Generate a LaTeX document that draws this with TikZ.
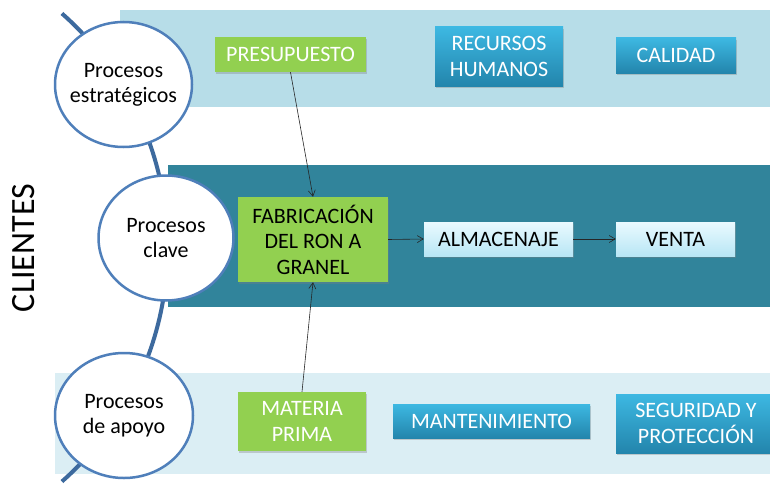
\documentclass[tikz,border=0pt]{standalone}
\usepackage{fontspec}
\setmainfont{Carlito}
\usetikzlibrary{shapes.geometric,shadows,arrows.meta}
\definecolor{bandtop}{HTML}{B7DDE8}
\definecolor{bandmid}{HTML}{31849B}
\definecolor{bandbot}{HTML}{DBEEF4}
\definecolor{boxgreen}{HTML}{92D050}
\definecolor{bluetop}{HTML}{3DB8E2}
\definecolor{bluebot}{HTML}{2385AC}
\definecolor{lighttop}{HTML}{EAFAFF}
\definecolor{lightbot}{HTML}{B8E6F5}
\definecolor{ringblue}{HTML}{4F7FBA}
\definecolor{arcblue}{HTML}{3D6A9E}
\tikzset{
  boxshadow/.style={drop shadow={shadow xshift=1.2pt,shadow yshift=-1.8pt,opacity=0.35}},
  boxfont/.style={font=\fontsize{22}{25.5}\selectfont},
  greenbox/.style={rectangle,fill=boxgreen,boxshadow,align=center,boxfont,inner sep=2pt},
  bluebox/.style={rectangle,top color=bluetop,bottom color=bluebot,boxshadow,align=center,text=white,boxfont,inner sep=2pt},
  lightbox/.style={rectangle,top color=lighttop,bottom color=lightbot,boxshadow,align=center,text=black,boxfont,inner sep=2pt},
  procring/.style={ellipse,draw=ringblue,line width=2.5pt,fill=white,inner sep=0pt},
  ringtext/.style={align=center,font=\fontsize{22}{25}\selectfont,inner sep=0pt},
  link/.style={-{Straight Barb[length=6pt,width=7pt]},line width=0.6pt,black!85}
}
\begin{document}
\begin{tikzpicture}[x=1pt,y=-1pt]
\useasboundingbox (0,0) rectangle (770,495);
\fill[white] (0,0) rectangle (770,495);
% bands
\fill[bandtop] (120,10) rectangle (770,107);
\fill[bandmid] (168,165) rectangle (770,307);
\fill[bandbot] (55,373) rectangle (770,474);
% arc
\draw[arcblue,line width=4pt] plot[domain=-48.6:48.6,samples=80] ({-144.4+312*cos(\x)},{247.5+312*sin(\x)});
% circles
\node[procring,minimum width=137pt,minimum height=125pt] (strat) at (123.5,84.5) {};
\node[ringtext] (strattxt) at (strat.center) {Procesos\\estratégicos};
\node[procring,minimum width=135pt,minimum height=125pt] (clave) at (166,238) {};
\node[ringtext] (clavetxt) at (clave.center) {Procesos\\clave};
\node[procring,minimum width=138pt,minimum height=125pt] (apoyo) at (124,415.5) {};
\node[ringtext] (apoyotxt) at (apoyo.center) {Procesos\\de apoyo};
% clientes
\node[rotate=90,font=\fontsize{34}{40}\selectfont] (cli) at (24,248) {CLIENTES};
% top boxes
\node[greenbox,text=white,minimum width=151pt,minimum height=35pt] (pres) at (290.5,54.5) {PRESUPUESTO};
\node[bluebox,minimum width=128pt,minimum height=59pt] (rrhh) at (499,56.5) {RECURSOS\\HUMANOS};
\node[bluebox,minimum width=120pt,minimum height=35pt] (cal) at (676,55.5) {CALIDAD};
% middle
\node[greenbox,text=black,minimum width=150pt,minimum height=85pt] (fab) at (313,239.5) {FABRICACIÓN\\DEL RON A\\GRANEL};
\node[lightbox,minimum width=149pt,minimum height=34pt] (alm) at (498.5,239) {ALMACENAJE};
\node[lightbox,minimum width=119pt,minimum height=34pt] (venta) at (675.5,239) {VENTA};
% bottom
\node[greenbox,text=white,minimum width=128pt,minimum height=59pt] (mat) at (302,421.5) {MATERIA\\PRIMA};
\node[bluebox,minimum width=197pt,minimum height=34pt] (mant) at (491.5,421) {MANTENIMIENTO};
\node[bluebox,minimum width=160pt,minimum height=59pt] (seg) at (696,423.5) {SEGURIDAD Y\\PROTECCIÓN};
% arrows
\draw[link] (pres.south) -- (fab.north);
\draw[link] (mat.north) -- (fab.south);
\draw[link] (fab.east) -- (alm.west);
\draw[link] (alm.east) -- (venta.west);
\end{tikzpicture}
\end{document}
